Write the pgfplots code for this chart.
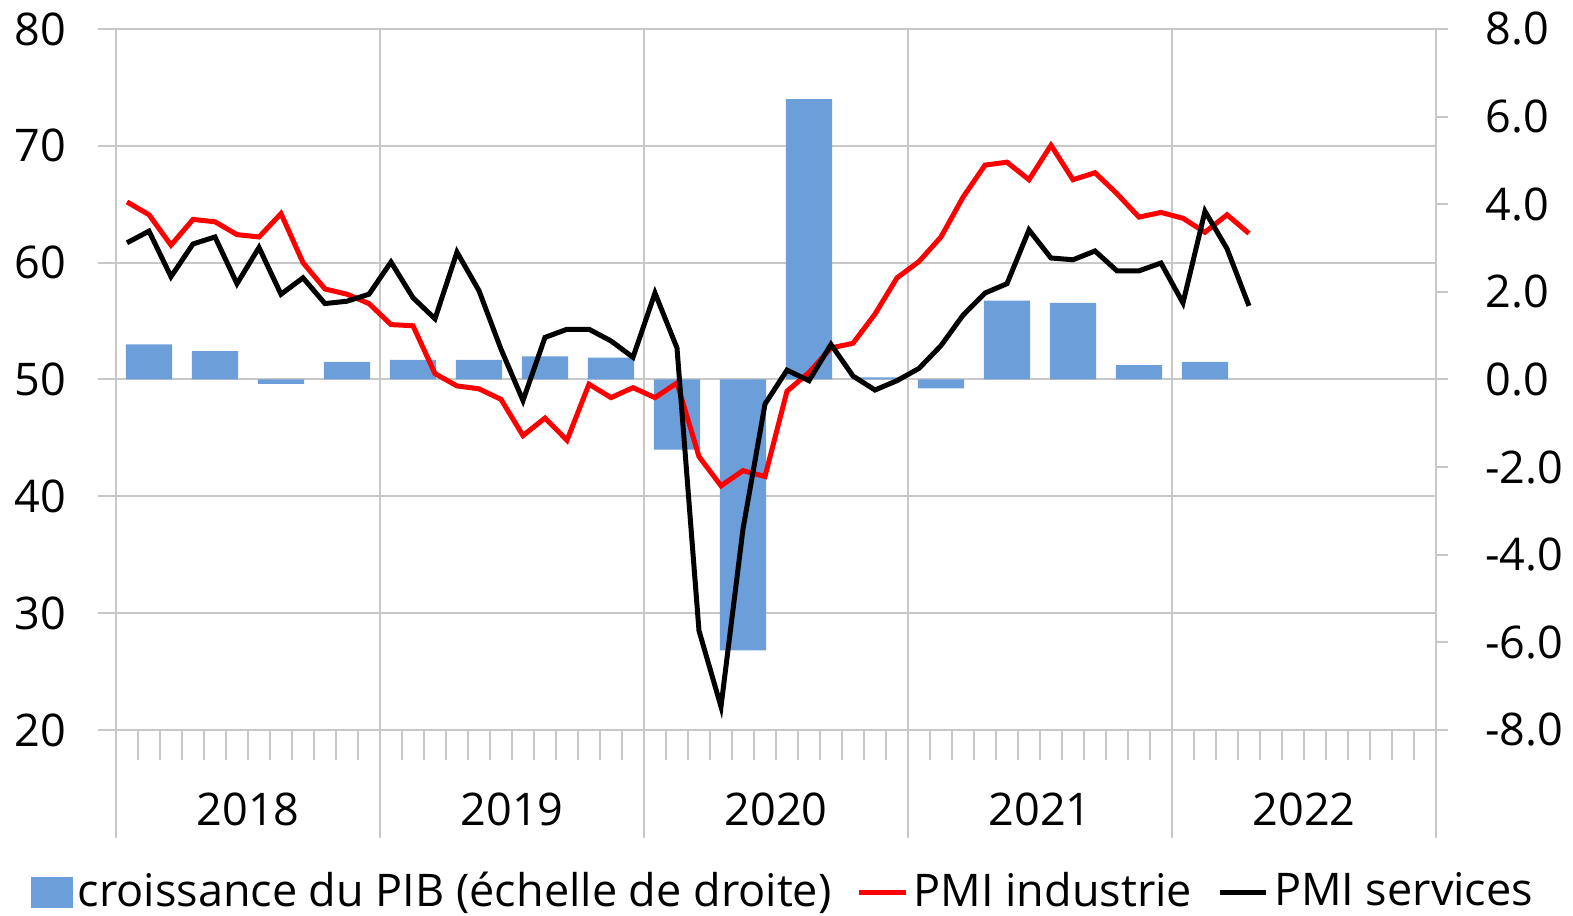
\documentclass[border=0pt]{standalone}
\usepackage{pgfplots}
\pgfplotsset{compat=1.18}
\usepackage{fontspec}
\setmainfont{Open Sans}
\definecolor{gridgray}{RGB}{200,200,200}
\definecolor{barblue}{RGB}{108,159,218}
\pgfplotsset{
  base/.style={scale only axis, width=396pt, height=210.3pt,
    at={(34.8pt,-219pt)}, anchor=south west,
    xmin=-0.5, xmax=59.5, axis line style={draw=none},
    /pgf/number format/assume math mode=true,
    tick style={gridgray, line width=0.6pt},
    grid style={gridgray, line width=0.6pt},
    tick align=outside},
}
\begin{document}
\fontsize{13.5pt}{16pt}\selectfont
\begin{tikzpicture}
\useasboundingbox (0,0) rectangle (471.9pt,-274.8pt);
% x axis: year boundaries, month ticks, year labels
\begin{axis}[base, ymin=20, ymax=80, ytick=\empty,
  xtick={-0.5,11.5,23.5,35.5,47.5,59.5}, xticklabels={}, xmajorgrids,
  major tick length=32.4pt, minor tick length=9pt,
  minor xtick={0.5,1.5,...,58.5}, xtick pos=bottom,
  extra x ticks={5.5,17.5,29.5,41.5,53.5},
  extra x tick labels={2018,2019,2020,2021,2022},
  extra x tick style={grid=none, tick style={draw=none}, xticklabel style={anchor=center, yshift=8.7pt}}]
\end{axis}
% left y axis grid
\begin{axis}[base, ymin=20, ymax=80, xtick=\empty, ytick={20,30,...,80}, ymajorgrids,
  major tick length=5.4pt, ytick pos=left,
  yticklabel style={anchor=east, xshift=-4.9pt}]
\end{axis}
% right axis: bars
\begin{axis}[base, ymin=-8, ymax=8, xtick=\empty, ytick={-8,-6,...,8},
  major tick length=3.6pt, ytick pos=right, yticklabel pos=right,
  yticklabel style={anchor=west, xshift=6.5pt, /pgf/number format/.cd, fixed, fixed zerofill, precision=1}]
\addplot[ybar, bar width=2.1, fill=barblue, draw=none] coordinates {
(1,0.8) (4,0.65) (7,-0.1) (10,0.4) (13,0.45) (16,0.45) (19,0.53) (22,0.5)
(25,-1.6) (28,-6.18) (31,6.4) (34,0.05) (37,-0.2) (40,1.8) (43,1.75) (46,0.33) (49,0.4)};
\end{axis}
% lines
\begin{axis}[base, ymin=20, ymax=80, xtick=\empty, ytick=\empty,
  legend columns=3,
  legend style={at={(0.5066,-0.232)}, anchor=center, draw=none, fill=none,
    inner sep=0pt, column sep=0pt, nodes={inner sep=1.5pt},
    /tikz/every odd column/.append style={column sep=0pt},
    /tikz/every even column/.append style={column sep=6pt}},
  legend cell align=left]
\addlegendimage{area legend, legend image code/.code={\fill[barblue] (0pt,-4.5pt) rectangle (12pt,4.5pt);}}
\addlegendentry{croissance du PIB (échelle de droite)}
\addplot[red, line width=1.5pt, legend image code/.code={\draw[red, line width=1.6pt] (0pt,0pt) -- (14pt,0pt);}] coordinates {
(0,65.2) (1,64.1) (2,61.5) (3,63.7) (4,63.5) (5,62.4) (6,62.2) (7,64.2) (8,60.0) (9,57.75)
(10,57.3) (11,56.5) (12,54.7) (13,54.6) (14,50.5) (15,49.45) (16,49.2) (17,48.3) (18,45.2) (19,46.7)
(20,44.8) (21,49.6) (22,48.45) (23,49.3) (24,48.45) (25,49.7) (26,43.4) (27,40.9) (28,42.2) (29,41.7)
(30,49.0) (31,50.6) (32,52.7) (33,53.1) (34,55.6) (35,58.7) (36,60.1) (37,62.2) (38,65.6) (39,68.35)
(40,68.6) (41,67.1) (42,70.05) (43,67.1) (44,67.7) (45,65.9) (46,63.9) (47,64.3) (48,63.8) (49,62.6)
(50,64.1) (51,62.5)};
\addlegendentry{PMI industrie}
\addplot[black, line width=1.5pt, legend image code/.code={\draw[black, line width=1.6pt] (0pt,0pt) -- (14pt,0pt);}] coordinates {
(0,61.7) (1,62.7) (2,58.8) (3,61.6) (4,62.2) (5,58.2) (6,61.3) (7,57.3) (8,58.7) (9,56.5)
(10,56.7) (11,57.3) (12,60.05) (13,57.0) (14,55.2) (15,60.9) (16,57.6) (17,52.6) (18,48.2) (19,53.6)
(20,54.3) (21,54.3) (22,53.3) (23,51.9) (24,57.4) (25,52.7) (26,28.5) (27,22.0) (28,37.2) (29,47.9)
(30,50.8) (31,49.9) (32,53.0) (33,50.3) (34,49.1) (35,49.9) (36,50.95) (37,52.9) (38,55.5) (39,57.4)
(40,58.2) (41,62.8) (42,60.4) (43,60.25) (44,61.0) (45,59.3) (46,59.3) (47,59.97) (48,56.55) (49,64.4)
(50,61.2) (51,56.3)};
\addlegendentry{PMI services}
\end{axis}
\end{tikzpicture}
\end{document}
